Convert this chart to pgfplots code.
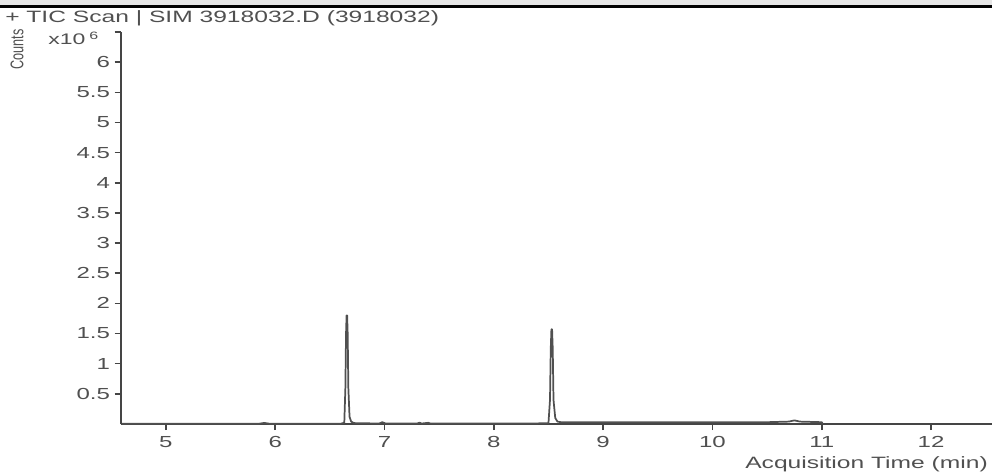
\documentclass[border=0pt]{standalone}
\usepackage{pgfplots}
\pgfplotsset{compat=1.18}
\usepackage{fontspec}
\setmainfont[FakeStretch=1.5]{Liberation Sans}
\newfontfamily\plainfont{Liberation Sans}
\definecolor{txt}{HTML}{505050}
\definecolor{axc}{HTML}{454545}
\definecolor{trc}{HTML}{505050}
\pgfplotstableread{
t c
4.60 0.004
5.85 0.004
5.90 0.018
5.95 0.004
6.60 0.005
6.632 0.02
6.642 0.60
6.648 1.50
6.653 1.80
6.658 1.80
6.663 1.50
6.669 0.60
6.680 0.12
6.695 0.04
6.720 0.015
6.950 0.008
6.980 0.030
7.010 0.008
7.300 0.010
7.320 0.022
7.340 0.008
7.400 0.020
7.420 0.008
8.400 0.010
8.500 0.015
8.514 0.40
8.521 1.25
8.527 1.57
8.533 1.57
8.539 1.25
8.546 0.40
8.562 0.10
8.582 0.040
8.620 0.028
9.500 0.028
10.50 0.030
10.70 0.040
10.75 0.060
10.80 0.040
11.00 0.030
11.01 0.000
}\trace
\begin{document}
\begin{tikzpicture}
\path[use as bounding box] (0pt,0pt) rectangle (744pt,354pt);
\fill[black!10] (0pt,350.25pt) rectangle (744pt,354pt);
\fill[black] (0pt,348pt) rectangle (744pt,350.25pt);
\node[anchor=base west, inner sep=0, text=txt, font=\fontsize{12.3}{14}\selectfont] at (3.75pt,337pt) {+ TIC Scan | SIM 3918032.D (3918032)};
\node[anchor=center, inner sep=0, text=txt] at (12.75pt,317pt) {\scalebox{1.45}[1]{\rotatebox{90}{\plainfont\fontsize{9.5}{11}\selectfont Counts}}};
\node[anchor=base west, inner sep=0, text=txt, font=\fontsize{11.5}{13}\selectfont] at (36pt,320.25pt) {x10\hspace{3pt}\raisebox{4pt}{\fontsize{8}{9}\selectfont 6}};
\node[anchor=base east, inner sep=0, text=txt, font=\fontsize{12.3}{14}\selectfont] at (741pt,3pt) {Acquisition Time (min)};
\begin{axis}[
  at={(90.5pt,36pt)}, anchor=south west,
  scale only axis, width=653.5pt, height=294pt,
  xmin=4.586, xmax=12.558, ymin=0, ymax=6.5,
  axis lines=left, axis line style={-, line width=1.6pt, color=axc},
  xtick={5,6,...,12}, ytick={0.5,1,...,6},
  extra y ticks={6.5}, extra y tick labels={},
  scaled y ticks=false,
  tick align=outside, major tick length=4.5pt,
  tick style={line width=1.2pt, color=axc},
  xticklabel style={text=txt, font=\fontsize{12}{14}\selectfont, yshift=-1pt},
  yticklabel style={text=txt, font=\fontsize{12}{14}\selectfont, xshift=0pt},
  /pgf/number format/assume math mode=true,
  /pgf/number format/fixed,
  clip=false,
]
\addplot[trc, line width=1.3pt, line join=round] table[x=t,y=c] {\trace};
\end{axis}
\end{tikzpicture}
\end{document}
